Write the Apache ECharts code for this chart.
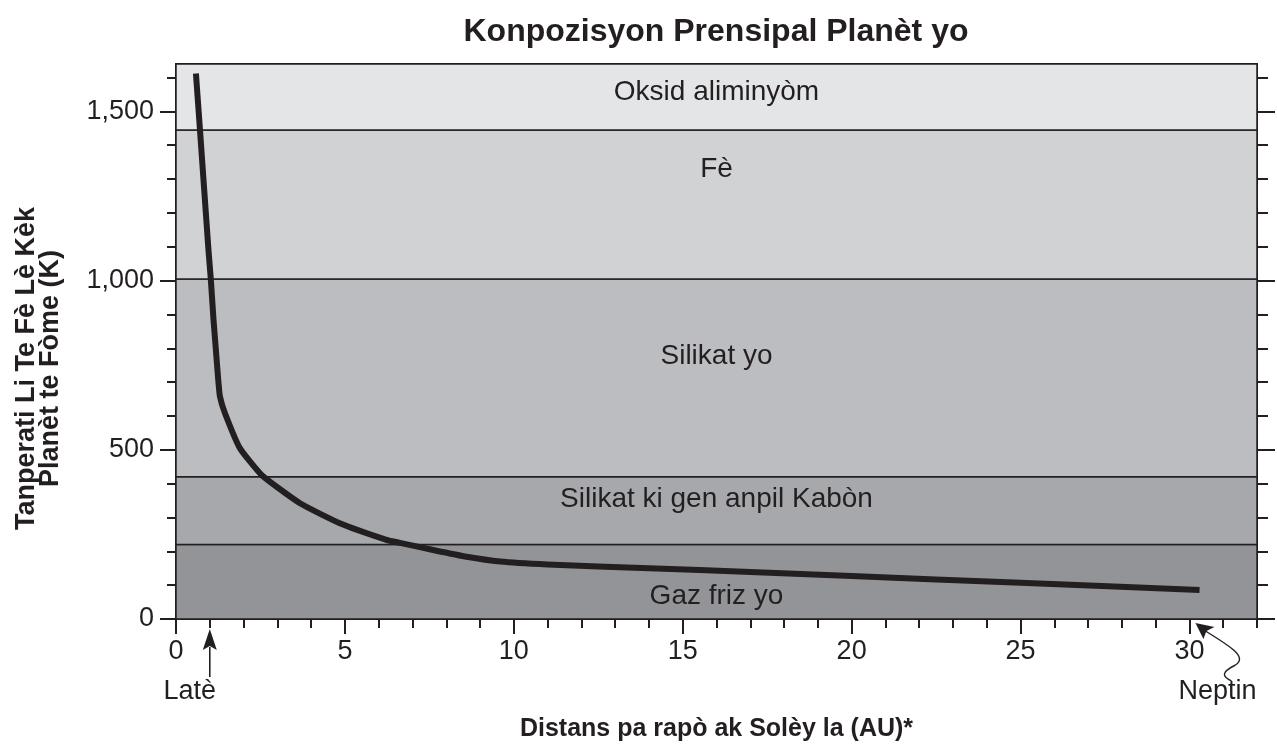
<!DOCTYPE html>
<html>
<head>
<meta charset="utf-8">
<title>Konpozisyon Prensipal Planèt yo</title>
<script src="https://cdn.jsdelivr.net/npm/echarts@6/dist/echarts.min.js"></script>
<style>
  html, body { margin: 0; padding: 0; background: #ffffff; }
  #chart { width: 1277px; height: 745px; }
</style>
</head>
<body>
<div id="chart"></div>
<script>
// Condensation temperature against distance from the Sun
const distAU = [0.59, 0.71, 0.96, 1.03, 1.11, 1.18, 1.25, 1.30, 1.45, 1.89, 2.55, 3.67, 4.85, 6.23, 6.63, 7.61, 8.6, 9.6, 11, 12.5, 15.5, 18.5, 20, 25, 30.3];
const tempK  = [1612, 1445, 1092, 1005, 885, 796, 707, 658, 608, 505, 424, 342, 283, 234, 225, 204, 184, 170, 161, 155, 145, 133, 127, 107, 86];

// Composition zones (lower and upper temperature bound, K)
const bandNames = ['Gaz friz yo', 'Silikat ki gen anpil Kabòn', 'Silikat yo', 'Fè', 'Oksid aliminyòm'];
const bandLow   = [0, 220, 420, 1005, 1445];
const bandHigh  = [220, 420, 1005, 1445, 1640];

// Axis ticks and labels
const xTickLabels = [0, 5, 10, 15, 20, 25, 30];
const yTickLabels = [0, 500, 1000, 1500];

// Marked planets
const planetNames = ['Latè', 'Neptin'];
const planetAU    = [1, 30];

const X_MAX = 32, Y_MAX = 1640;
const INK = '#231f20';
const FONT = "'Liberation Sans', Arial, Helvetica, sans-serif";

// visual styling for each zone: fill and vertical label nudge
const bandColors  = ['#939498', '#a7a8ac', '#bcbdc1', '#d1d2d4', '#e4e5e7'];
const bandLabelDy = [15, -11, -22, -35, -5];

function stepValues(lo, hi, step) {
  const out = [];
  for (let v = lo; v <= hi + 1e-9; v += step) out.push(v);
  return out;
}
const xMinorTicks = stepValues(0, 32, 1);
const yMinorTicks = stepValues(0, 1600, 100);

const chart = echarts.init(document.getElementById('chart'), null, { renderer: 'canvas' });

const baseValueAxis = {
  type: 'value',
  splitLine: { show: false },
  axisLine: { show: true, onZero: false, lineStyle: { color: INK, width: 2 } },
  axisTick: { show: true, inside: false, lineStyle: { color: INK, width: 2 } },
  axisLabel: { show: false }
};

function xAxisDef(ticks, len, withLabels) {
  return Object.assign({}, baseValueAxis, {
    min: 0, max: X_MAX, position: 'bottom',
    axisTick: Object.assign({}, baseValueAxis.axisTick, { length: len, customValues: ticks }),
    axisLabel: withLabels
      ? { show: true, customValues: xTickLabels, fontFamily: FONT, fontSize: 27, color: INK, margin: 19 }
      : { show: false }
  });
}
function yAxisDef(ticks, len, pos, withLabels) {
  return Object.assign({}, baseValueAxis, {
    min: 0, max: Y_MAX, position: pos,
    axisTick: Object.assign({}, baseValueAxis.axisTick, { length: len, customValues: ticks }),
    axisLabel: withLabels
      ? { show: true, customValues: yTickLabels, fontFamily: FONT, fontSize: 27, color: INK, margin: 22,
          formatter: v => v.toLocaleString('en-US') }
      : { show: false }
  });
}

const xMain = xAxisDef(xTickLabels, 15, true);
xMain.name = 'Distans pa rapò ak Solèy la (AU)*';
xMain.nameLocation = 'middle';
xMain.nameGap = 98;
xMain.nameTextStyle = { fontFamily: FONT, fontSize: 25, fontWeight: 'bold', color: INK };

const yMain = yAxisDef(yTickLabels, 16, 'left', true);
yMain.name = 'Tanperati Li Te Fè Lè Kèk\nPlanèt te Fòme (K)';
yMain.nameLocation = 'middle';
yMain.nameRotate = 90;
yMain.nameGap = 113;
yMain.nameTextStyle = { fontFamily: FONT, fontSize: 27, fontWeight: 'bold', color: INK,
  lineHeight: 24, padding: [0, 54, 0, 0] };

const bandAreas = bandNames.map((name, i) => [
  {
    name: name,
    yAxis: bandLow[i],
    xAxis: 0,
    itemStyle: { color: bandColors[i], borderColor: INK, borderWidth: 1.5 },
    label: { offset: [0, bandLabelDy[i]] }
  },
  { yAxis: bandHigh[i], xAxis: X_MAX }
]);

chart.setOption({
  animation: false,
  backgroundColor: '#ffffff',
  title: {
    text: 'Konpozisyon Prensipal Planèt yo',
    left: 711, top: 11, textAlign: 'center',
    textStyle: { fontFamily: FONT, fontSize: 32, fontWeight: 'bold', color: INK }
  },
  grid: {
    left: 176, right: 20, top: 64, bottom: 126,
    outerBoundsMode: 'none', containLabel: false,
    show: true, borderColor: INK, borderWidth: 2, backgroundColor: 'transparent'
  },
  xAxis: [xMain, xAxisDef(xMinorTicks, 9, false)],
  yAxis: [
    yMain,
    yAxisDef(yMinorTicks, 9, 'left', false),
    yAxisDef(yTickLabels, 18, 'right', false),
    yAxisDef(yMinorTicks, 11, 'right', false)
  ],
  series: [
    {
      name: 'zones',
      type: 'line',
      data: [],
      z: 1,
      silent: true,
      markArea: {
        silent: true,
        label: {
          show: true, position: 'inside',
          fontFamily: FONT, fontSize: 28, color: INK
        },
        data: bandAreas
      }
    },
    {
      name: 'tanperati',
      type: 'line',
      z: 5,
      data: distAU.map((d, i) => [d, tempK[i]]),
      showSymbol: false,
      smooth: 0.15,
      lineStyle: { color: INK, width: 6, cap: 'butt', join: 'round' }
    }
  ]
});

// Planet pointers below the distance axis
const earth = chart.convertToPixel({ xAxisIndex: 0, yAxisIndex: 0 }, [planetAU[0], 0]);
const nep = chart.convertToPixel({ xAxisIndex: 0, yAxisIndex: 0 }, [planetAU[1], 0]);
const ex = earth[0], ey = earth[1];
const nx = nep[0] + 6, ny = nep[1] + 4;

const textStyle = { fontFamily: FONT, fontSize: 27, fill: INK };
chart.setOption({
  graphic: [
    { type: 'line', shape: { x1: ex, y1: ey + 28, x2: ex, y2: ey + 58 }, style: { stroke: INK, lineWidth: 1.6 } },
    { type: 'polygon', shape: { points: [[ex, ey + 10], [ex - 7, ey + 31], [ex, ey + 27], [ex + 7, ey + 31]] }, style: { fill: INK } },
    { type: 'text', x: ex - 20, y: ey + 59, style: Object.assign({ text: planetNames[0], align: 'center', verticalAlign: 'top' }, textStyle) },
    { type: 'bezierCurve',
      shape: { x1: nx + 10, y1: ny + 8, cpx1: nx + 36, cpy1: ny + 24, cpx2: nx + 52, cpy2: ny + 34, x2: nx + 40, y2: ny + 42 },
      style: { stroke: INK, lineWidth: 1.4, fill: null } },
    { type: 'bezierCurve',
      shape: { x1: nx + 40, y1: ny + 42, cpx1: nx + 24, cpy1: ny + 50, cpx2: nx + 28, cpy2: ny + 54, x2: nx + 36, y2: ny + 58 },
      style: { stroke: INK, lineWidth: 1.4, fill: null } },
    { type: 'polygon', shape: { points: [[nx, ny], [nx + 19, ny + 4], [nx + 11, ny + 8], [nx + 8, ny + 16]] }, style: { fill: INK } },
    { type: 'text', x: nx + 22, y: ny + 55, style: Object.assign({ text: planetNames[1], align: 'center', verticalAlign: 'top' }, textStyle) }
  ]
});
</script>
</body>
</html>
